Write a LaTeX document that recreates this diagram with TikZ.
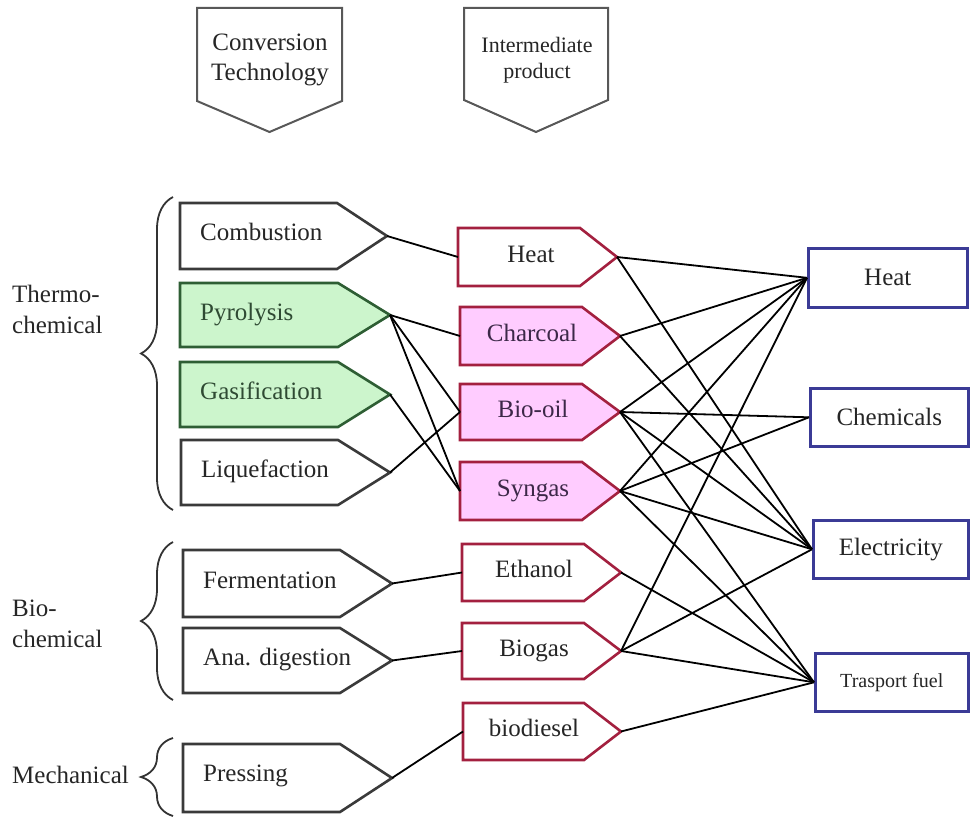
\documentclass[tikz,border=0pt]{standalone}
\usepackage{fontspec}
\setmainfont{Liberation Serif}
\usetikzlibrary{decorations.pathreplacing}
\definecolor{grnfill}{HTML}{CCF5CC}
\definecolor{grnline}{HTML}{2E5E34}
\definecolor{grntext}{HTML}{2F4A33}
\definecolor{pinkfill}{HTML}{FFCCFF}
\definecolor{redline}{HTML}{A3203F}
\definecolor{ptext}{HTML}{3C2848}
\definecolor{blueline}{HTML}{3B3B96}
\definecolor{greyline}{HTML}{3A3A3A}
\tikzset{
  frame/.style={inner sep=0pt, outer sep=0pt, draw=none, rectangle, anchor=north west},
  techw/.style={draw=greyline, fill=white, line width=2.6pt},
  techg/.style={draw=grnline, fill=grnfill, line width=2.6pt},
  prodw/.style={draw=redline, fill=white, line width=2.6pt},
  prodp/.style={draw=redline, fill=pinkfill, line width=2.6pt},
  hdr/.style={draw=greyline!85, fill=white, line width=2pt},
  endbox/.style={draw=blueline, fill=white, line width=2.6pt, inner sep=0pt, anchor=north west,
    font=\fontsize{25}{30}\selectfont, text=black!85},
  lbl/.style={font=\fontsize{25}{31}\selectfont, inner sep=0pt, text=black!85, text height=16pt, text depth=6pt},
  hlbl/.style={inner sep=0pt, text=black!85, align=center},
  conn/.style={draw=black, line width=1.8pt},
  grp/.style={decorate, decoration={brace, amplitude=32pt}, line width=1.8pt, draw=black!80},
}
% right-pointing pentagon: style, name, x left, y top, width, height, pointer length
\newcommand\rpent[7]{%
  \node[frame, minimum width=#5pt, minimum height=#6pt] (#2) at (#3,#4) {};
  \path[#1] (#2.north west) -- ([xshift=-#7pt]#2.north east) -- (#2.east)
    -- ([xshift=-#7pt]#2.south east) -- (#2.south west) -- cycle;
}
% down-pointing pentagon
\newcommand\dpent[7]{%
  \node[frame, minimum width=#5pt, minimum height=#6pt] (#2) at (#3,#4) {};
  \path[#1] (#2.north west) -- (#2.north east) -- ([yshift=#7pt]#2.south east)
    -- (#2.south) -- ([yshift=#7pt]#2.south west) -- cycle;
}
\begin{document}
\begin{tikzpicture}[x=1pt, y=-1pt]
\useasboundingbox (0,0) rectangle (971,818);

% headers
\dpent{hdr}{hconv}{197}{8}{145}{124}{31}
\dpent{hdr}{hinter}{464}{8}{144}{124}{32}
\node[hlbl, font=\fontsize{25}{30}\selectfont] (tconv) at (270,60) {Conversion\\Technology};
\node[hlbl, font=\fontsize{22}{26}\selectfont] (tinter) at (537,60) {Intermediate\\product};

% group labels
\node[lbl, align=left, anchor=west, text height=, text depth=] (tthermo) at (12,309) {Thermo-\\chemical};
\node[lbl, align=left, anchor=west, text height=, text depth=] (tbio) at (12,624) {Bio-\\chemical};
\node[lbl, anchor=west] (tmech) at (12,778) {Mechanical};

% braces
\draw[grp] (173,510) -- (173,197);
\draw[grp] (173,700) -- (173,542);
\draw[grp] (173,816) -- (173,738);

% conversion technologies
\rpent{techw}{comb}{180}{203}{207}{66}{50}
\rpent{techg}{pyro}{180}{283}{210}{64}{52}
\rpent{techg}{gasi}{180}{362}{210}{65}{52}
\rpent{techw}{liqu}{181}{440}{209}{65}{52}
\rpent{techw}{ferm}{183}{550}{209}{67}{52}
\rpent{techw}{anad}{183}{628}{209}{65}{52}
\rpent{techw}{pres}{183}{744}{209}{68}{52}
\node[lbl, anchor=west] (tcomb) at (200,236) {Combustion};
\node[lbl, anchor=west, text=grntext] (tpyro) at (200,315) {Pyrolysis};
\node[lbl, anchor=west, text=grntext] (tgasi) at (200,394) {Gasification};
\node[lbl, anchor=west] (tliqu) at (201,472) {Liquefaction};
\node[lbl, anchor=west] (tferm) at (203,583) {Fermentation};
\node[lbl, anchor=west] (tanad) at (203,660) {Ana. digestion};
\node[lbl, anchor=west] (tpres) at (203,776) {Pressing};

% intermediate products
\rpent{prodw}{iheat}{458}{228}{159}{58}{37}
\rpent{prodp}{ichar}{460}{307}{160}{58}{38}
\rpent{prodp}{ioil}{460}{384}{160}{56}{38}
\rpent{prodp}{isyn}{460}{462}{160}{58}{38}
\rpent{prodw}{ieth}{462}{544}{159}{57}{37}
\rpent{prodw}{ibgs}{462}{623}{159}{56}{37}
\rpent{prodw}{ibdi}{463}{703}{158}{57}{37}
\node[lbl] (theat) at (531,257) {Heat};
\node[lbl, text=ptext] (tchar) at (532,336) {Charcoal};
\node[lbl, text=ptext] (toil) at (533,412) {Bio-oil};
\node[lbl, text=ptext] (tsyn) at (533,491) {Syngas};
\node[lbl] (teth) at (534,572) {Ethanol};
\node[lbl] (tbgs) at (534,651) {Biogas};
\node[lbl] (tbdi) at (534,731) {biodiesel};

% end uses
\node[endbox, minimum width=159pt, minimum height=59pt] (rheat) at (807,247) {Heat};
\node[endbox, minimum width=158pt, minimum height=58pt] (rchem) at (809,387) {Chemicals};
\node[endbox, minimum width=155pt, minimum height=58pt] (relec) at (812,519) {Electricity};
\node[endbox, minimum width=153pt, minimum height=58pt, font=\fontsize{20}{24}\selectfont] (rtran) at (814,652) {Trasport fuel};

% technology -> product
\draw[conn] (comb.east) -- (iheat.west);
\draw[conn] (pyro.east) -- (ichar.west);
\draw[conn] (pyro.east) -- (ioil.west);
\draw[conn] (pyro.east) -- (isyn.west);
\draw[conn] (gasi.east) -- (isyn.west);
\draw[conn] (liqu.east) -- (ioil.west);
\draw[conn] (ferm.east) -- (ieth.west);
\draw[conn] (anad.east) -- (ibgs.west);
\draw[conn] (pres.east) -- (ibdi.west);

% product -> end use
\draw[conn] (iheat.east) -- (rheat.west);
\draw[conn] (iheat.east) -- (relec.west);
\draw[conn] (ichar.east) -- (rheat.west);
\draw[conn] (ichar.east) -- (relec.west);
\draw[conn] (ioil.east) -- (rheat.west);
\draw[conn] (ioil.east) -- (rchem.west);
\draw[conn] (ioil.east) -- (relec.west);
\draw[conn] (ioil.east) -- (rtran.west);
\draw[conn] (isyn.east) -- (rheat.west);
\draw[conn] (isyn.east) -- (rchem.west);
\draw[conn] (isyn.east) -- (relec.west);
\draw[conn] (isyn.east) -- (rtran.west);
\draw[conn] (ieth.east) -- (rtran.west);
\draw[conn] (ibgs.east) -- (rheat.west);
\draw[conn] (ibgs.east) -- (relec.west);
\draw[conn] (ibgs.east) -- (rtran.west);
\draw[conn] (ibdi.east) -- (rtran.west);
\end{tikzpicture}
\end{document}
